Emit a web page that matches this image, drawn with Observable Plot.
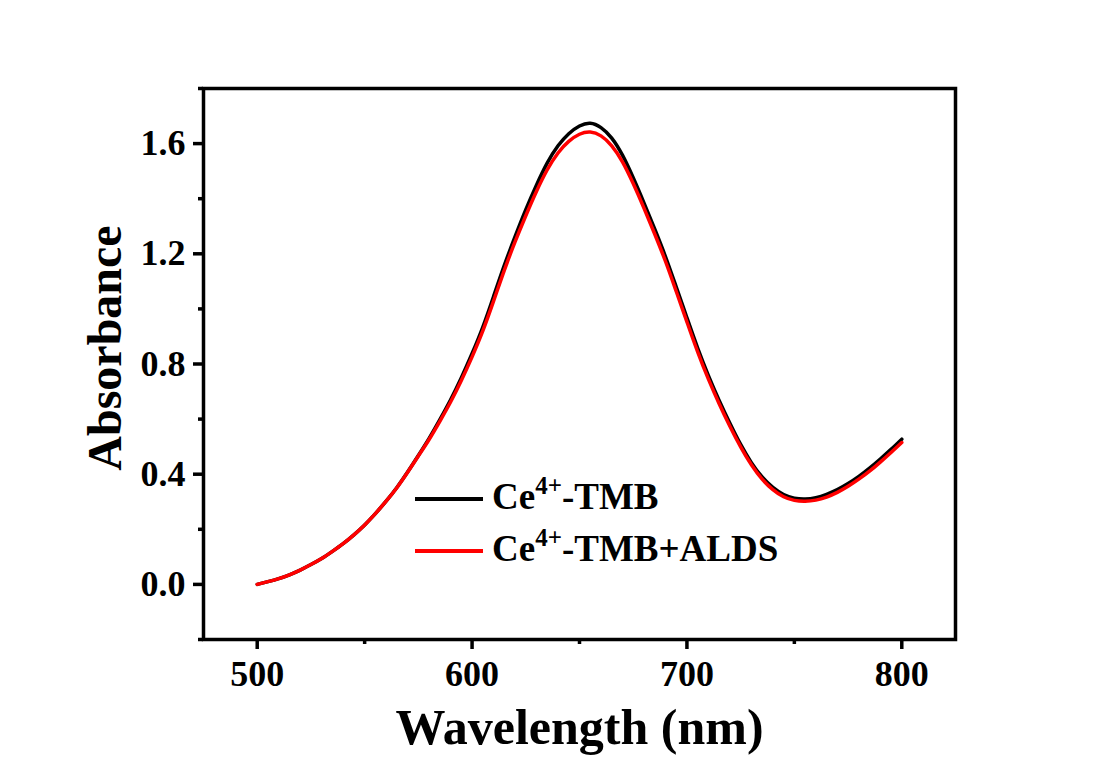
<!DOCTYPE html>
<html>
<head>
<meta charset="utf-8">
<script src="https://cdn.jsdelivr.net/npm/d3@7"></script>
<script src="https://cdn.jsdelivr.net/npm/@observablehq/plot@0.6"></script>
<style>
  body { margin: 0; background: #ffffff; }
  #chart { width: 1097px; height: 757px; }
</style>
</head>
<body>
<div id="chart"></div>
<script>
const wavelengths = [500,505,510,515,520,525,530,535,540,545,550,555,560,565,570,575,580,585,590,595,600,605,610,615,620,625,630,635,640,645,650,655,660,665,670,675,680,685,690,695,700,705,710,715,720,725,730,735,740,745,750,755,760,765,770,775,780,785,790,795,800];
const ceTMB = [0.000,0.010,0.021,0.035,0.052,0.072,0.094,0.120,0.148,0.180,0.216,0.257,0.302,0.352,0.408,0.468,0.530,0.598,0.670,0.750,0.838,0.934,1.045,1.158,1.262,1.360,1.450,1.530,1.592,1.636,1.664,1.674,1.658,1.620,1.558,1.476,1.385,1.290,1.190,1.080,0.968,0.858,0.758,0.668,0.585,0.508,0.442,0.390,0.352,0.326,0.313,0.310,0.315,0.327,0.344,0.366,0.392,0.422,0.455,0.490,0.527];
const ceTMBALDS = [0.000,0.010,0.021,0.035,0.052,0.072,0.094,0.120,0.148,0.180,0.216,0.257,0.302,0.351,0.407,0.466,0.526,0.592,0.662,0.740,0.826,0.920,1.028,1.140,1.243,1.338,1.427,1.505,1.566,1.608,1.634,1.642,1.628,1.592,1.534,1.455,1.366,1.272,1.173,1.064,0.953,0.844,0.745,0.656,0.574,0.499,0.434,0.382,0.344,0.318,0.305,0.302,0.306,0.317,0.334,0.356,0.382,0.411,0.444,0.479,0.515];
const seriesNames = ["Ce4+-TMB", "Ce4+-TMB+ALDS"];
const seriesColors = ["#000000", "#ff0000"];
const xTicks = [500, 600, 700, 800];
const xMinorTicks = [550, 650, 750];
const yTicks = [0.0, 0.4, 0.8, 1.2, 1.6];
const yMinorTicks = [-0.2, 0.2, 0.6, 1.0, 1.4, 1.8];
const xTitle = "Wavelength (nm)";
const yTitle = "Absorbance";

const rows = [];
wavelengths.forEach((w, i) => rows.push({wl: w, abs: ceTMB[i], series: seriesNames[0]}));
wavelengths.forEach((w, i) => rows.push({wl: w, abs: ceTMBALDS[i], series: seriesNames[1]}));

const font = "'Liberation Serif', 'Times New Roman', serif";

const chart = Plot.plot({
  width: 1097,
  height: 757,
  marginLeft: 203,
  marginRight: 142,
  marginTop: 88,
  marginBottom: 118,
  style: {fontFamily: font, fontWeight: "bold", fontSize: "35px", color: "black", background: "white"},
  x: {domain: [475, 825]},
  y: {domain: [-0.2, 1.8]},
  color: {domain: seriesNames, range: seriesColors},
  marks: [
    Plot.axisX({ticks: xTicks, tickSize: 10, tickPadding: 11, strokeWidth: 3.5, label: null, tickFormat: d => String(d), fontSize: 36, fontWeight: "bold", fill: "black"}),
    Plot.axisX({ticks: xMinorTicks, tickSize: 5, strokeWidth: 3.5, text: null, label: null}),
    Plot.axisY({ticks: yTicks, tickSize: 10, tickPadding: 8, strokeWidth: 3.5, label: null, tickFormat: d => d.toFixed(1), fontSize: 36, fontWeight: "bold", fill: "black"}),
    Plot.axisY({ticks: yMinorTicks, tickSize: 5, strokeWidth: 3.5, text: null, label: null}),
    Plot.line(rows, {x: "wl", y: "abs", z: "series", stroke: "series", strokeWidth: 3.5, curve: "natural"}),
    Plot.frame({stroke: "black", strokeWidth: 3.5}),
    Plot.text([xTitle], {frameAnchor: "bottom", textAnchor: "middle", dy: 104, lineAnchor: "bottom", fontSize: 50, fontWeight: "bold", fill: "black"}),
    Plot.text([yTitle], {frameAnchor: "left", textAnchor: "middle", lineAnchor: "middle", rotate: -90, dx: -98, dy: -16, fontSize: 48, fontWeight: "bold", fill: "black"})
  ]
});

document.getElementById("chart").appendChild(chart);

// Legend
const svg = d3.select(chart);
const lg = svg.append("g").attr("font-family", font).attr("font-weight", "bold").attr("text-anchor", "start");
const legendRows = [{y: 499, name: seriesNames[0], color: seriesColors[0], rest: "-TMB"}, {y: 551, name: seriesNames[1], color: seriesColors[1], rest: "-TMB+ALDS"}];
legendRows.forEach(r => {
  lg.append("line").attr("x1", 415).attr("x2", 483).attr("y1", r.y).attr("y2", r.y)
    .attr("stroke", r.color).attr("stroke-width", 4);
  const t = lg.append("text").attr("x", 492).attr("y", r.y + 10).attr("font-size", 37).attr("fill", "black").attr("text-anchor", "start");
  t.append("tspan").text("Ce");
  t.append("tspan").attr("font-size", 25).attr("dy", -15).text("4+");
  t.append("tspan").attr("dy", 15).text(r.rest);
});
</script>
</body>
</html>
